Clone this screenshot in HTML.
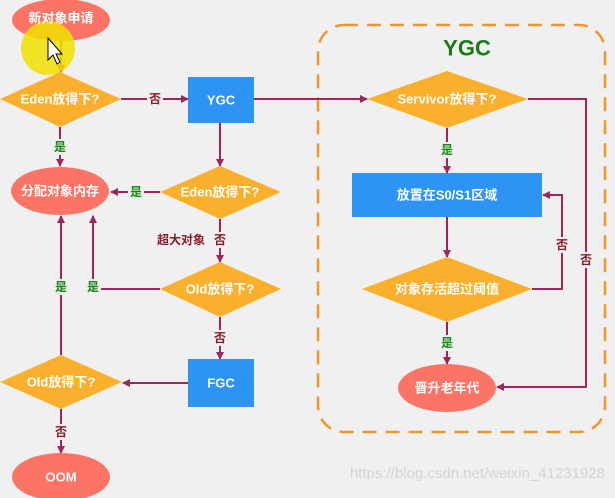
<!DOCTYPE html>
<html><head><meta charset="utf-8"><style>
body{margin:0;background:#f0f0f0;}
svg{display:block;font-family:"Liberation Sans","Noto Sans CJK SC",sans-serif;}
.w{fill:#fff;font-weight:bold;font-size:13px;text-anchor:middle;dominant-baseline:central;}
.ln{stroke:#a0245e;stroke-width:2;fill:none;}
.g{fill:#1a8a1a;font-weight:bold;font-size:12px;text-anchor:middle;dominant-baseline:central;}
.r{fill:#8a1a2a;font-weight:bold;font-size:12px;text-anchor:middle;dominant-baseline:central;}
</style></head><body>
<svg width="615" height="498" viewBox="0 0 615 498">
<defs><marker id="a" markerWidth="8" markerHeight="8" refX="7" refY="4" orient="auto" markerUnits="userSpaceOnUse"><path d="M0,0 L8,4 L0,8 z" fill="#a0245e"/></marker></defs>
<rect x="318" y="25" width="287" height="407" rx="26" fill="none" stroke="#f0962a" stroke-width="2.5" stroke-dasharray="14,9"/>
<text x="467" y="48" font-size="22" font-weight="bold" fill="#1a7a1a" text-anchor="middle" dominant-baseline="central">YGC</text>
<!-- connectors -->
<path class="ln" d="M61,40 L61,72" marker-end="url(#a)"/>
<path class="ln" d="M121,99 L188,99" marker-end="url(#a)"/>
<path class="ln" d="M254,99 L367,99" marker-end="url(#a)"/>
<path class="ln" d="M60,127 L60,166" marker-end="url(#a)"/>
<path class="ln" d="M220,123 L220,166" marker-end="url(#a)"/>
<path class="ln" d="M160,192 L111,192" marker-end="url(#a)"/>
<path class="ln" d="M220,219 L220,262" marker-end="url(#a)"/>
<path class="ln" d="M160,289 L93,289 L93,216" marker-end="url(#a)"/>
<path class="ln" d="M61,355 L61,216" marker-end="url(#a)"/>
<path class="ln" d="M220,317 L220,359" marker-end="url(#a)"/>
<path class="ln" d="M188,383 L123,383" marker-end="url(#a)"/>
<path class="ln" d="M61,409 L61,453" marker-end="url(#a)"/>
<path class="ln" d="M447,128 L447,173" marker-end="url(#a)"/>
<path class="ln" d="M447,217 L447,257" marker-end="url(#a)"/>
<path class="ln" d="M532,289 L562,289 L562,195 L543,195" marker-end="url(#a)"/>
<path class="ln" d="M528,99 L586,99 L586,387 L497,387" marker-end="url(#a)"/>
<path class="ln" d="M447,322 L447,364" marker-end="url(#a)"/>
<!-- nodes -->
<ellipse cx="61" cy="20" rx="49" ry="21" fill="#fb7466"/>
<circle cx="48" cy="48" r="27" fill="#f0e000" opacity="0.85"/>
<path d="M48,38 L48,60 L53,55 L57,64 L60,62 L56,54 L62,54 z" fill="#fff" stroke="#000" stroke-width="1"/>
<text class="w" x="61" y="18">新对象申请</text>
<polygon points="0,99 60,72 121,99 60,127" fill="#fbb02d"/><text class="w" x="60" y="99">Eden放得下?</text>
<rect x="188" y="77" width="66" height="46" fill="#2d94f5"/><text class="w" x="221" y="100">YGC</text>
<ellipse cx="60" cy="191" rx="49" ry="24" fill="#fb7466"/><text class="w" x="60" y="191">分配对象内存</text>
<polygon points="160,192 220,166 281,192 220,219" fill="#fbb02d"/><text class="w" x="220" y="192">Eden放得下?</text>
<polygon points="160,289 220,262 281,289 220,317" fill="#fbb02d"/><text class="w" x="220" y="289">Old放得下?</text>
<rect x="188" y="359" width="66" height="48" fill="#2d94f5"/><text class="w" x="221" y="383">FGC</text>
<polygon points="0,382 61,355 122,382 61,409" fill="#fbb02d"/><text class="w" x="61" y="382">Old放得下?</text>
<ellipse cx="61" cy="477" rx="49" ry="24" fill="#fb7466"/><text class="w" x="61" y="477">OOM</text>
<polygon points="367,99 447,71 528,99 447,128" fill="#fbb02d"/><text class="w" x="447" y="99">Servivor放得下?</text>
<rect x="352" y="173" width="190" height="44" fill="#2d94f5"/><text class="w" x="447" y="195">放置在S0/S1区域</text>
<polygon points="362,289 447,257 532,289 447,322" fill="#fbb02d"/><text class="w" x="447" y="289">对象存活超过阈值</text>
<ellipse cx="447" cy="388" rx="49" ry="24" fill="#fb7466"/><text class="w" x="447" y="388">晋升老年代</text>
<!-- labels -->
<rect x="147" y="91" width="16" height="16" fill="#f0f0f0"/><text class="r" x="155" y="99">否</text>
<rect x="52" y="139" width="16" height="16" fill="#f0f0f0"/><text class="g" x="60" y="147">是</text>
<rect x="128" y="184" width="16" height="16" fill="#f0f0f0"/><text class="g" x="136" y="192">是</text>
<text class="r" x="181" y="240">超大对象</text>
<rect x="212" y="232" width="16" height="16" fill="#f0f0f0"/><text class="r" x="220" y="240">否</text>
<rect x="85" y="279" width="16" height="16" fill="#f0f0f0"/><text class="g" x="93" y="287">是</text>
<rect x="53" y="279" width="16" height="16" fill="#f0f0f0"/><text class="g" x="61" y="287">是</text>
<rect x="212" y="330" width="16" height="16" fill="#f0f0f0"/><text class="r" x="220" y="338">否</text>
<rect x="53" y="424" width="16" height="16" fill="#f0f0f0"/><text class="r" x="61" y="432">否</text>
<rect x="439" y="142" width="16" height="16" fill="#f0f0f0"/><text class="g" x="447" y="150">是</text>
<rect x="554" y="237" width="16" height="16" fill="#f0f0f0"/><text class="r" x="562" y="245">否</text>
<rect x="578" y="252" width="16" height="16" fill="#f0f0f0"/><text class="r" x="586" y="260">否</text>
<rect x="439" y="335" width="16" height="16" fill="#f0f0f0"/><text class="g" x="447" y="343">是</text>
<text x="605" y="478" font-size="15" fill="#d4d4d4" text-anchor="end">https://blog.csdn.net/weixin_41231928</text>
</svg>
</body></html>
